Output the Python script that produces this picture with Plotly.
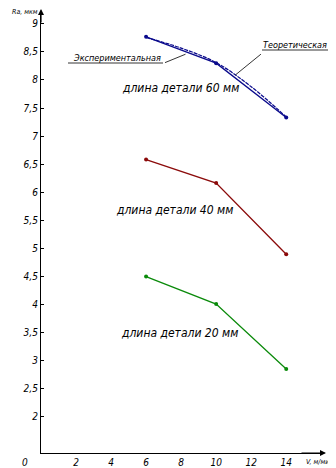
import plotly.graph_objects as go

speed = [6, 10, 14]
ra_60 = [8.77, 8.30, 7.33]
ra_40 = [6.58, 6.16, 4.89]
ra_20 = [4.49, 4.00, 2.84]

theory_speed = [6, 8, 10, 12, 14]
theory_60 = [8.76, 8.57, 8.31, 7.88, 7.34]

y_ticks = [2, 2.5, 3, 3.5, 4, 4.5, 5, 5.5, 6, 6.5, 7, 7.5, 8, 8.5, 9]
y_tick_text = [str(v).replace(".", ",") for v in y_ticks]
x_ticks = [2, 4, 6, 8, 10, 12, 14]
x_tick_text = [str(v) for v in x_ticks]

FONT = "Liberation Sans Narrow, DejaVu Sans Condensed, Arial Narrow, sans-serif"
BLUE = "#0a0a8c"
RED = "#8b0a0a"
GREEN = "#0a8a0a"

fig = go.Figure()
fig.add_trace(go.Scatter(x=theory_speed, y=theory_60, mode="lines",
                         line=dict(color=BLUE, width=1.2, dash="4px,1px", shape="spline", smoothing=1.0),
                         hoverinfo="skip", showlegend=False))
fig.add_trace(go.Scatter(x=speed, y=ra_60, mode="lines+markers",
                         line=dict(color=BLUE, width=1.3), marker=dict(size=4, color=BLUE),
                         showlegend=False))
fig.add_trace(go.Scatter(x=speed, y=ra_40, mode="lines+markers",
                         line=dict(color=RED, width=1.3), marker=dict(size=4, color=RED),
                         showlegend=False))
fig.add_trace(go.Scatter(x=speed, y=ra_20, mode="lines+markers",
                         line=dict(color=GREEN, width=1.3), marker=dict(size=4, color=GREEN),
                         showlegend=False))

italic = dict(family=FONT, size=12, color="black", style="italic")
small = dict(family=FONT, size=9, color="black", style="italic")

# page body adds an 8px offset; the figure is sized to fit the window
OFF = 8
W, H = 336 - OFF, 468 - OFF
ML, MR, MT, MB = 33, 13, 4, 15
pw, ph = W - ML - MR, H - MT - MB


def px(xp):
    return (xp - OFF - ML) / pw


def py(yp):
    return (H - (yp - OFF) - MB) / ph


annotations = [
    dict(x=7.96, y=7.86, text="длина детали 60 мм", showarrow=False, font=italic),
    dict(x=7.62, y=5.68, text="длина детали 40 мм", showarrow=False, font=italic),
    dict(x=7.9, y=3.48, text="длина детали 20 мм", showarrow=False, font=italic),
    dict(x=8.25, y=8.46, ax=-22, ay=9, text="", showarrow=True, arrowhead=0,
         arrowwidth=0.8, arrowcolor="black"),
    dict(x=11.1, y=8.09, ax=27, ay=-22, text="", showarrow=True, arrowhead=0,
         arrowwidth=0.8, arrowcolor="black"),
    dict(x=px(163), y=py(58), xref="paper", yref="paper", text="Экспериментальная",
         showarrow=False, font=small, xanchor="right", yanchor="middle"),
    dict(x=px(261), y=py(45), xref="paper", yref="paper", text="Теоретическая",
         showarrow=False, font=small, xanchor="left", yanchor="middle"),
    dict(x=px(10), y=py(12), xref="paper", yref="paper", text="Ra, мкм",
         showarrow=False, font=dict(family=FONT, size=7, color="black", style="italic"),
         xanchor="left", yanchor="middle"),
    dict(x=px(20), y=0, xref="paper", yref="paper", yanchor="top", yshift=-2,
         text="0", showarrow=False,
         font=dict(family=FONT, size=10, color="black", style="italic")),
    dict(x=px(304), y=0, xref="paper", yref="paper", xanchor="left", yanchor="top",
         yshift=-3, text="V, м/мин", showarrow=False,
         font=dict(family=FONT, size=7, color="black", style="italic")),
    dict(x=0, y=py(8), xref="paper", yref="paper", ax=0, ay=16, text="",
         showarrow=True, arrowhead=2, arrowsize=1, arrowwidth=1.2, arrowcolor="black"),
    dict(x=px(326), y=0, xref="paper", yref="paper", ax=-26, ay=0, text="",
         showarrow=True, arrowhead=2, arrowsize=1, arrowwidth=1.2, arrowcolor="black"),
]

shapes = [
    dict(type="line", xref="paper", yref="paper",
         x0=px(68), x1=px(163), y0=py(63), y1=py(63),
         line=dict(color="black", width=0.8)),
    dict(type="line", xref="paper", yref="paper",
         x0=px(262), x1=px(333), y0=py(50), y1=py(50),
         line=dict(color="black", width=0.8)),
]

fig.update_layout(
    width=W, height=H,
    margin=dict(l=ML, r=MR, t=MT, b=MB, autoexpand=False),
    paper_bgcolor="white", plot_bgcolor="white",
    annotations=annotations, shapes=shapes,
    font=dict(family=FONT, size=10, color="black", style="italic"),
    xaxis=dict(range=[0, 16.1], showgrid=False, zeroline=False, showline=True,
               linecolor="black", linewidth=1.2, tickvals=x_ticks, automargin=False,
               ticktext=x_tick_text, ticks="", ticklabeloverflow="allow",
               tickfont=dict(family=FONT, size=10, style="italic")),
    yaxis=dict(range=[1.34, 9.214], showgrid=False, zeroline=False, showline=True,
               linecolor="black", linewidth=1.2, tickvals=y_ticks, ticktext=y_tick_text,
               automargin=False, ticks="inside", ticklen=3, tickcolor="black",
               ticklabeloverflow="allow",
               tickfont=dict(family=FONT, size=10, style="italic")),
)

fig.write_html("out.html")
